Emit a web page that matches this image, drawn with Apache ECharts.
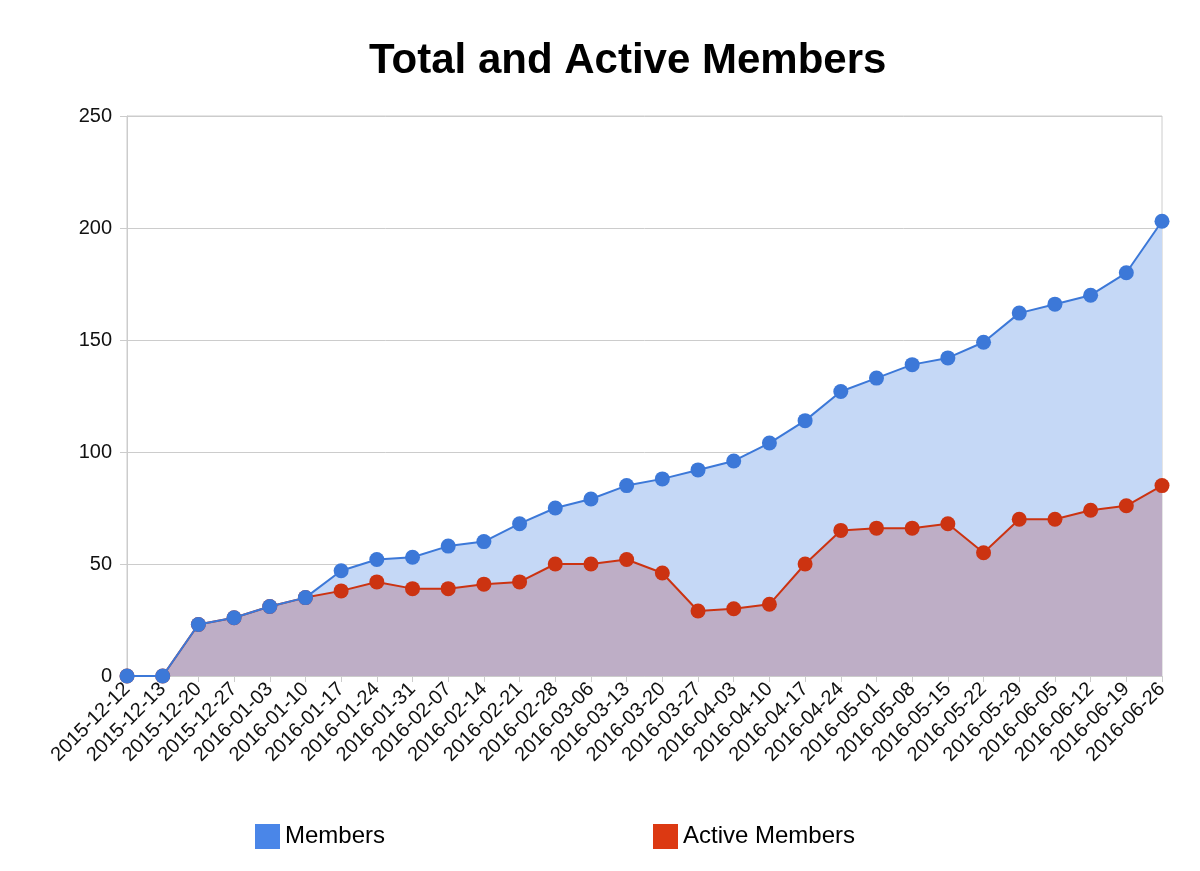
<!DOCTYPE html>
<html>
<head>
<meta charset="utf-8">
<title>Total and Active Members</title>
<script src="https://cdn.jsdelivr.net/npm/echarts@6/dist/echarts.min.js"></script>
<style>
  html, body { margin: 0; padding: 0; background: #fff; }
  #chart { width: 1200px; height: 871px; }
</style>
</head>
<body>
<div id="chart"></div>
<script>
var dates = [
  '2015-12-12', '2015-12-13', '2015-12-20', '2015-12-27', '2016-01-03', '2016-01-10',
  '2016-01-17', '2016-01-24', '2016-01-31', '2016-02-07', '2016-02-14', '2016-02-21',
  '2016-02-28', '2016-03-06', '2016-03-13', '2016-03-20', '2016-03-27', '2016-04-03',
  '2016-04-10', '2016-04-17', '2016-04-24', '2016-05-01', '2016-05-08', '2016-05-15',
  '2016-05-22', '2016-05-29', '2016-06-05', '2016-06-12', '2016-06-19', '2016-06-26'
]
var members = [0, 0, 23, 26, 31, 35, 47, 52, 53, 58, 60, 68, 75, 79, 85, 88, 92, 96, 104, 114, 127, 133, 139, 142, 149, 162, 166, 170, 180, 203]
var activeMembers = [0, 0, 23, 26, 31, 35, 38, 42, 39, 39, 41, 42, 50, 50, 52, 46, 29, 30, 32, 50, 65, 66, 66, 68, 55, 70, 70, 74, 76, 85]
var yTicks = { min: 0, max: 250, interval: 50 }

var font = 'Arial, "Liberation Sans", sans-serif'
var chart = echarts.init(document.getElementById('chart'))

// area fills are separate so the lines/dots of both series sit above both fills
function areaSeries(name, data, fill) {
  return {
    name: name,
    type: 'line',
    data: data,
    z: 1,
    symbol: 'none',
    silent: true,
    lineStyle: { width: 0 },
    areaStyle: { color: fill, opacity: 1 }
  }
}
function lineSeries(name, data, color, z) {
  return {
    name: name,
    type: 'line',
    data: data,
    z: z,
    symbol: 'circle',
    symbolSize: 15,
    showAllSymbol: true,
    lineStyle: { color: color, width: 2 },
    itemStyle: { color: color }
  }
}
function legendAt(left, name, color) {
  return {
    left: left,
    top: 819,
    icon: 'rect',
    itemWidth: 25,
    itemHeight: 25,
    itemGap: 6,
    textStyle: { fontSize: 24, color: '#000' },
    data: [{ name: name, itemStyle: { color: color } }]
  }
}

var option = {
  backgroundColor: '#fff',
  animation: false,
  textStyle: { fontFamily: font },
  title: {
    text: 'Total and Active Members',
    left: 364,
    top: 35,
    textStyle: { fontSize: 42, fontWeight: 'bold', color: '#000', fontFamily: font }
  },
  legend: [
    legendAt(250, 'Members', '#4a86e8'),
    legendAt(648, 'Active Members', '#dc3912')
  ],
  grid: {
    left: 127,
    right: 38,
    top: 116,
    bottom: 195,
    show: true,
    borderColor: '#cccccc',
    borderWidth: 1
  },
  xAxis: {
    type: 'category',
    data: dates,
    boundaryGap: false,
    axisLine: { lineStyle: { color: '#cccccc', width: 1 } },
    axisTick: { show: true, length: 6, lineStyle: { color: '#cccccc' } },
    axisLabel: { rotate: 45, fontSize: 20, color: '#111', margin: 10, interval: 0 }
  },
  yAxis: {
    type: 'value',
    min: yTicks.min,
    max: yTicks.max,
    interval: yTicks.interval,
    axisLine: { show: true, lineStyle: { color: '#cccccc', width: 1 } },
    axisTick: { show: true, length: 7, lineStyle: { color: '#cccccc' } },
    axisLabel: { fontSize: 20, color: '#111', margin: 15 },
    splitLine: { lineStyle: { color: '#cccccc', width: 1 } }
  },
  series: [
    areaSeries('Members', members, '#c5d8f6'),
    areaSeries('Active Members', activeMembers, '#beaec6'),
    lineSeries('Active Members', activeMembers, '#cc3311', 2),
    lineSeries('Members', members, '#3c78d8', 3)
  ]
}
chart.setOption(option)
</script>
</body>
</html>
